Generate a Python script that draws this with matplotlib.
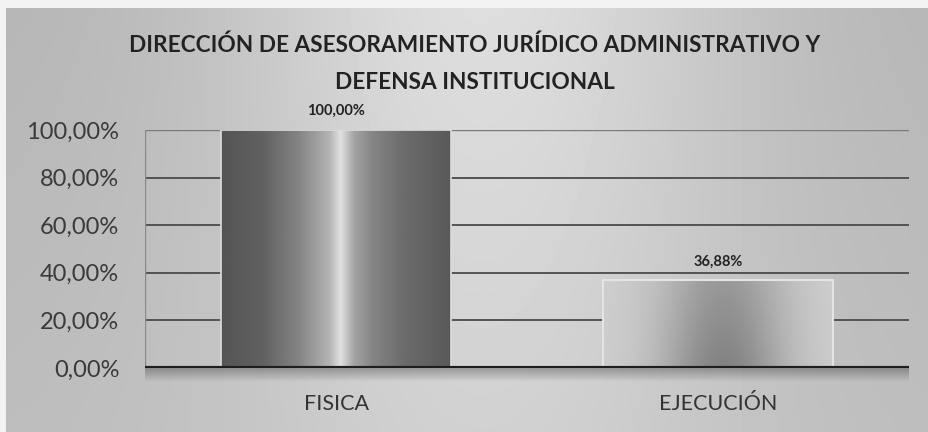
import numpy as np
import matplotlib
matplotlib.use('Agg')
import matplotlib.pyplot as plt
from matplotlib.patches import Rectangle

# datos del gráfico
categorias = ['FISICA', 'EJECUCIÓN']
valores = [1.0, 0.3688]
etiquetas = ['100,00%', '36,88%']
ticks_y = [0, 0.2, 0.4, 0.6, 0.8, 1.0]
ticks_y_txt = ['0,00%', '20,00%', '40,00%', '60,00%', '80,00%', '100,00%']
titulo = 'DIRECCIÓN DE ASESORAMIENTO JURÍDICO ADMINISTRATIVO Y\nDEFENSA INSTITUCIONAL'

plt.rcParams['font.family'] = ['Lato', 'DejaVu Sans']

W, H = 929, 432
fig = plt.figure(figsize=(W / 100, H / 100), dpi=100)

# fondo gris con degradado (como escaneado)
bg = fig.add_axes([0, 0, 1, 1], zorder=-10)
u = np.linspace(0, 1, W)[None, :]
v = np.linspace(0, 1, H)[:, None]
gris = 0.71 + 0.16 * np.exp(-((u - 0.52) / 0.28) ** 2) * (1 - 0.5 * v) + 0.03 * v
gris[:, :6] = 0.95
gris[:8, :] = 0.95
bg.imshow(gris, cmap='gray', vmin=0, vmax=1, aspect='auto', extent=[0, 1, 0, 1])
bg.set_xlim(0, 1)
bg.set_ylim(0, 1)
bg.axis('off')

ax = fig.add_axes([145 / W, 1 - 368 / H, (909 - 145) / W, (368 - 130) / H])
ax.patch.set_alpha(0)

# rejilla
for t in ticks_y[1:-1]:
    ax.axhline(t, color='#4a4a4a', lw=1.3, zorder=1)
ax.axhline(ticks_y[-1], color='#7a7a7a', lw=1, zorder=1)
ax.axvline(-0.5, color='#888888', lw=1, zorder=1)

ancho = 0.6
x = np.arange(len(categorias))

# barra 1: efecto cilindro
pts = [0, 0.18, 0.34, 0.47, 0.52, 0.58, 0.66, 0.8, 1.0]
lum = [0.33, 0.38, 0.52, 0.7, 0.88, 0.64, 0.52, 0.42, 0.35]
perfil = np.interp(np.linspace(0, 1, 300), pts, lum)[None, :]
r1 = Rectangle((x[0] - ancho / 2, 0), ancho, valores[0], facecolor='none',
               edgecolor='#dddddd', lw=1.2, zorder=3)
ax.add_patch(r1)
im1 = ax.imshow(np.repeat(perfil, 10, axis=0), cmap='gray', vmin=0, vmax=1, aspect='auto',
                extent=[x[0] - ancho / 2, x[0] + ancho / 2, 0, valores[0]], zorder=2)
im1.set_clip_path(r1)

# barra 2: centro oscuro, bordes claros
uu = np.linspace(-1, 1, 300)[None, :]
vv = np.linspace(0, 1, 100)[:, None]
som = np.exp(-((uu - 0.05) / 0.55) ** 2) * (0.7 + 0.3 * (1 - vv))
perfil2 = 0.81 - 0.30 * som
r2 = Rectangle((x[1] - ancho / 2, 0), ancho, valores[1], facecolor='none',
               edgecolor='#e4e4e4', lw=1.5, zorder=3)
ax.add_patch(r2)
im2 = ax.imshow(perfil2, cmap='gray', vmin=0, vmax=1, aspect='auto', origin='lower',
                extent=[x[1] - ancho / 2, x[1] + ancho / 2, 0, valores[1]], zorder=2)
im2.set_clip_path(r2)

# línea base con sombra
ax.axhline(0, color='#1e1e1e', lw=3, zorder=5)
sombra = np.zeros((30, 10, 4))
sombra[..., 3] = np.linspace(0.3, 0, 30)[:, None]
ax.imshow(sombra, aspect='auto', origin='upper',
          extent=[-0.5, 1.5, -0.06, 0], zorder=4, clip_on=False)
ax.set_ylim(0, 1)
ax.set_xlim(-0.5, 1.5)

# etiquetas de datos
for xi, val, txt in zip(x, valores, etiquetas):
    ax.text(xi, val + 0.05, txt, ha='center', va='bottom', fontsize=10.5,
            fontweight='bold', color='#222222')

ax.set_yticks(ticks_y)
ax.set_yticklabels(ticks_y_txt, fontsize=17, color='#3a3a3a')
ax.set_xticks(x)
ax.set_xticklabels(categorias, fontsize=15.5, color='#333333')
ax.tick_params(axis='y', length=0, pad=18.5)
ax.tick_params(axis='x', length=0, pad=19)
for s in ax.spines.values():
    s.set_visible(False)

fig.text(475 / W, 1 - 64 / H, titulo, ha='center', va='center', fontsize=16.3,
         fontweight='bold', color='#222222', linespacing=1.95)

fig.savefig('out.png', dpi=100)
